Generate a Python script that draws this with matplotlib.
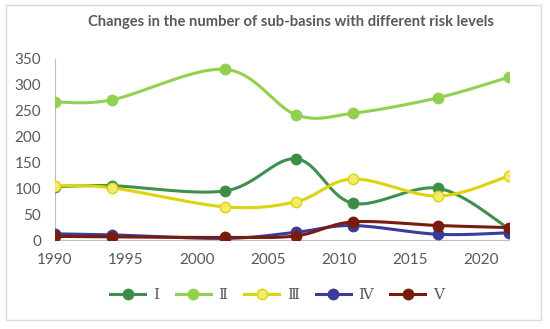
import numpy as np
import matplotlib
matplotlib.use("Agg")
import matplotlib.pyplot as plt
from matplotlib.patches import Rectangle

years = [1990, 1994, 2002, 2007, 2011, 2017, 2022]
level_I = [103, 105, 95, 157, 71, 100, 22]
level_II = [267, 271, 330, 242, 245, 275, 315]
level_III = [105, 101, 64, 74, 118, 85, 124]
level_IV = [12, 10, 3, 15, 28, 11, 14]
level_V = [7, 6, 5, 8, 35, 28, 24]

names = ["Ⅰ", "Ⅱ", "Ⅲ", "Ⅳ", "Ⅴ"]
series = [level_I, level_II, level_III, level_IV, level_V]
line_colors = ["#3F8F4F", "#92D050", "#DCD40C", "#3B3B9A", "#7A1C0C"]
face_colors = ["#3C8C48", "#92D050", "#F2EB6B", "#3B3B9A", "#7A1C0C"]

grey = "#595959"


def smooth(x, y, n=40):
    # excel style smoothed line (bezier through the points)
    x = np.asarray(x, float)
    y = np.asarray(y, float)
    px = np.concatenate([[x[0]], x, [x[-1]]])
    py = np.concatenate([[y[0]], y, [y[-1]]])
    xs, ys = [], []
    t = np.linspace(0, 1, n)
    for i in range(1, len(px) - 2):
        p0 = np.array([px[i], py[i]])
        p3 = np.array([px[i + 1], py[i + 1]])
        c1 = p0 + (np.array([px[i + 1], py[i + 1]]) - np.array([px[i - 1], py[i - 1]])) / 6
        c2 = p3 - (np.array([px[i + 2], py[i + 2]]) - p0) / 6
        b = ((1 - t) ** 3)[:, None] * p0 + (3 * (1 - t) ** 2 * t)[:, None] * c1 \
            + (3 * (1 - t) * t ** 2)[:, None] * c2 + (t ** 3)[:, None] * p3
        xs.extend(b[:, 0])
        ys.extend(b[:, 1])
    return xs, ys


fig = plt.figure(figsize=(5.5, 3.29), dpi=100)
fig.patches.append(Rectangle((6 / 550, 1 - 320 / 329), 535 / 550, 315 / 329,
                             transform=fig.transFigure, fill=False,
                             edgecolor="#D9D9D9", linewidth=1))
ax = fig.add_axes([55 / 550, 1 - 240 / 329, 454 / 550, 181 / 329])

handles = []
for name, vals, lc, fc in zip(names, series, line_colors, face_colors):
    sx, sy = smooth(years, vals)
    ax.plot(sx, sy, color=lc, linewidth=2.2, solid_capstyle="round", zorder=2)
    ax.plot(years, vals, linestyle="none", marker="o", markersize=7.5,
            markerfacecolor=fc, markeredgecolor=lc, markeredgewidth=1, zorder=3)
    h, = ax.plot([], [], color=lc, linewidth=2.2, marker="o", markersize=7.5,
                 markerfacecolor=fc, markeredgecolor=lc, label=name)
    handles.append(h)

ax.set_xlim(1990, 2022)
ax.set_ylim(0, 350)
ax.set_xticks(range(1990, 2021, 5))
ax.set_yticks(range(0, 351, 50))
for s in ["top", "right"]:
    ax.spines[s].set_visible(False)
ax.spines["left"].set_color("#BFBFBF")
ax.spines["bottom"].set_color("#BFBFBF")
ax.tick_params(axis="y", length=0, labelsize=11, labelcolor=grey, pad=10)
ax.tick_params(axis="x", length=0, labelsize=11, labelcolor=grey, pad=9)
for lab in ax.get_xticklabels() + ax.get_yticklabels():
    lab.set_family("Lato")

fig.text(291 / 550, 1 - 22 / 329, "Changes in the number of sub-basins with different risk levels",
         ha="center", va="center", fontsize=10.6, fontweight="bold", color=grey, family="Lato")

leg = fig.legend(handles=handles, loc="center", bbox_to_anchor=(277 / 550, 1 - 295 / 329),
                 ncol=5, frameon=False, handlelength=2.3, columnspacing=1.1, handletextpad=0.5,
                 prop={"family": ["DejaVu Serif"], "size": 11})
for t in leg.get_texts():
    t.set_color(grey)

fig.savefig("out.png", dpi=100)
